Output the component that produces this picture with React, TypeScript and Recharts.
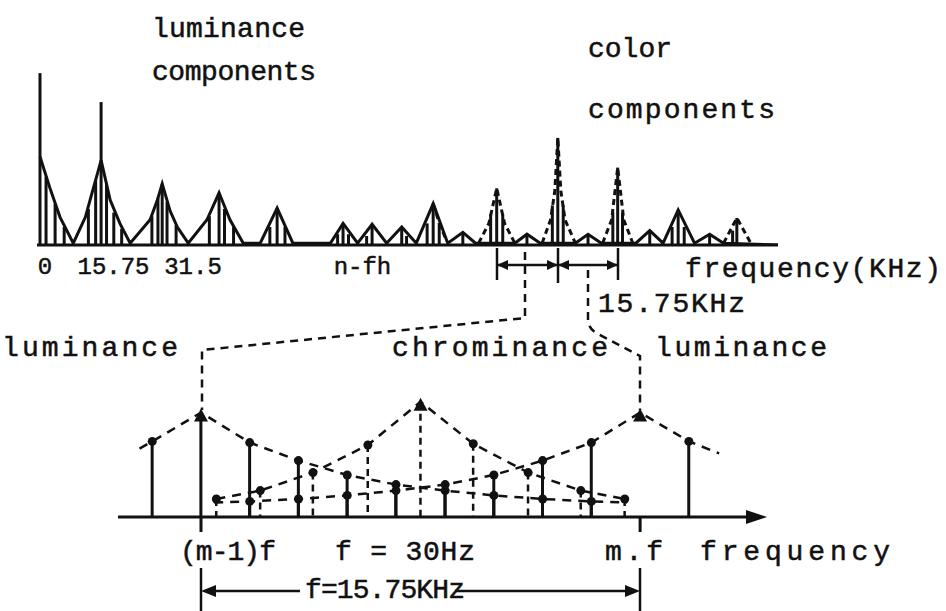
import { ComposedChart, Line, Bar, Scatter, XAxis, YAxis } from 'recharts';

const W = 946;
const H = 611;
const INK = '#111';
const FONT = '"Liberation Mono", "Courier New", monospace';

// upper spectrum: x in multiples of the line frequency fh (15.75 kHz), v = relative level
const topTickValues = [0, 1, 2, 5];
const topTickLabels = ['0', '15.75', '31.5', 'n-fh'];
const TICK_NUDGE = [5, 13, 32, 20];

const lumaOutline = [
  { n: 0, v: 49 }, { n: 0.16, v: 32 }, { n: 0.33, v: 15.5 }, { n: 0.55, v: 1 },
  { n: 0.75, v: 15.5 }, { n: 0.86, v: 29 }, { n: 1.01, v: 47 }, { n: 1.16, v: 25 }, { n: 1.32, v: 12 }, { n: 1.49, v: 1 },
  { n: 1.82, v: 14 }, { n: 1.94, v: 25 }, { n: 2.02, v: 34 }, { n: 2.15, v: 19 }, { n: 2.27, v: 10 }, { n: 2.45, v: 1 },
  { n: 2.76, v: 14 }, { n: 2.96, v: 29 }, { n: 3.14, v: 14 }, { n: 3.36, v: 1 },
  { n: 3.64, v: 1 }, { n: 3.92, v: 20.5 }, { n: 4.18, v: 1 },
  { n: 4.8, v: 1 }, { n: 5.01, v: 12 }, { n: 5.25, v: 1 },
  { n: 5.49, v: 11.5 }, { n: 5.73, v: 1 },
  { n: 5.98, v: 10 }, { n: 6.22, v: 1 },
  { n: 6.5, v: 23 }, { n: 6.74, v: 1 },
  { n: 6.99, v: 7 }, { n: 7.2, v: 1 },
  { n: 7.85, v: 1 }, { n: 8.05, v: 6 }, { n: 8.27, v: 1 },
  { n: 8.85, v: 1 }, { n: 9.06, v: 6 }, { n: 9.28, v: 1 },
  { n: 9.85, v: 1 }, { n: 10.08, v: 8 }, { n: 10.3, v: 1 },
  { n: 10.55, v: 19.5 }, { n: 10.82, v: 1 },
  { n: 11.07, v: 6 }, { n: 11.3, v: 1 },
  { n: 12.2, v: 0 },
];

const chromaOutline = [
  { n: 6.5, v: 23 }, { n: 6.6, v: 12 }, { n: 6.7, v: 4 }, { n: 6.8, v: null },
  { n: 7.25, v: 1 }, { n: 7.42, v: 12 }, { n: 7.55, v: 31.5 }, { n: 7.68, v: 12 }, { n: 7.85, v: 1 }, { n: 8.0, v: null },
  { n: 8.3, v: 1 }, { n: 8.44, v: 14 }, { n: 8.51, v: 30 }, { n: 8.56, v: 59.5 }, { n: 8.61, v: 30 }, { n: 8.68, v: 14 }, { n: 8.85, v: 1 }, { n: 9.0, v: null },
  { n: 9.3, v: 1 }, { n: 9.45, v: 14 }, { n: 9.55, v: 43 }, { n: 9.65, v: 14 }, { n: 9.8, v: 1 }, { n: 10.0, v: null },
  { n: 11.3, v: 1 }, { n: 11.52, v: 15 }, { n: 11.75, v: 1 },
];

const topStems = [
  { n: 0, v: 95.5 }, { n: 0.1, v: 38 }, { n: 0.25, v: 23 }, { n: 0.4, v: 10 },
  { n: 0.8, v: 20 }, { n: 0.92, v: 36 }, { n: 1.01, v: 79.4 }, { n: 1.1, v: 34 }, { n: 1.22, v: 18 }, { n: 1.35, v: 9 },
  { n: 1.85, v: 16 }, { n: 1.95, v: 26 }, { n: 2.02, v: 34 }, { n: 2.1, v: 24 }, { n: 2.25, v: 11 },
  { n: 2.8, v: 16 }, { n: 2.96, v: 29 }, { n: 3.05, v: 20 }, { n: 3.2, v: 10 },
  { n: 3.8, v: 10 }, { n: 3.92, v: 20.5 }, { n: 4.05, v: 10 },
  { n: 4.92, v: 6 }, { n: 5.01, v: 12 }, { n: 5.1, v: 6 },
  { n: 5.4, v: 5 }, { n: 5.49, v: 11.5 },
  { n: 5.98, v: 10 }, { n: 6.06, v: 5 },
  { n: 6.4, v: 12 }, { n: 6.5, v: 23 }, { n: 6.6, v: 12 },
  { n: 6.99, v: 7 },
  { n: 7.45, v: 17 }, { n: 7.55, v: 31.5 }, { n: 7.65, v: 17 },
  { n: 8.05, v: 6 },
  { n: 8.47, v: 22 }, { n: 8.56, v: 59.5 }, { n: 8.65, v: 22 },
  { n: 9.06, v: 6 },
  { n: 9.47, v: 18 }, { n: 9.55, v: 43 }, { n: 9.63, v: 18 },
  { n: 10.08, v: 8 },
  { n: 10.45, v: 10 }, { n: 10.55, v: 19.5 }, { n: 10.65, v: 10 },
  { n: 11.07, v: 6 },
  { n: 11.45, v: 8 }, { n: 11.52, v: 15 },
];

// lower detail: u = position between (m-1)f (0) and m.f (1)
const lumaLowStems = [
  { u: -0.111, v: 63 }, { u: 0, v: 87 }, { u: 0.111, v: 62 }, { u: 0.222, v: 47 }, { u: 0.333, v: 35 },
  { u: 0.444, v: 27 }, { u: 0.556, v: 22 }, { u: 0.667, v: 18 }, { u: 0.778, v: 15 }, { u: 0.889, v: 13 },
];
const lumaHighStems = [
  { u: 0.111, v: 13 }, { u: 0.222, v: 15 }, { u: 0.333, v: 18 }, { u: 0.444, v: 22 }, { u: 0.556, v: 27 },
  { u: 0.667, v: 35 }, { u: 0.778, v: 47 }, { u: 0.889, v: 62 }, { u: 1, v: 87 }, { u: 1.111, v: 63 },
];
const chromaStems = [
  { u: 0.035, v: 15 }, { u: 0.135, v: 22 }, { u: 0.255, v: 37 }, { u: 0.38, v: 60 }, { u: 0.5, v: 96 },
  { u: 0.62, v: 61 }, { u: 0.745, v: 37 }, { u: 0.865, v: 22 }, { u: 0.965, v: 15 },
];
const lumaLowEnds = [{ u: -0.14, v: 57 }, { u: 0.97, v: 12 }];
const lumaHighEnds = [{ u: 0.03, v: 12 }, { u: 1.18, v: 53 }];

const lowStems = [
  ...lumaLowStems.map((p) => ({ ...p, family: 'luma' })),
  ...lumaHighStems.filter((p) => p.v < 80).map((p) => ({ ...p, family: 'luma' })),
  ...chromaStems.map((p) => ({ ...p, family: 'chroma' })),
];
const lumaLowLine = [lumaLowEnds[0], ...lumaLowStems, lumaLowEnds[1]];
const lumaHighLine = [lumaHighEnds[0], ...lumaHighStems, lumaHighEnds[1]];

function StemShape(props: any) {
  const { x, y, width, height, payload } = props;
  if (!isFinite(x) || !isFinite(y) || !isFinite(height)) return null;
  const cx = x + width / 2;
  const dashed = payload && payload.family === 'chroma';
  return (
    <line
      x1={cx}
      x2={cx}
      y1={y}
      y2={y + height}
      stroke={INK}
      strokeWidth={dashed ? 2.5 : 3}
      strokeDasharray={dashed ? '7 5' : undefined}
    />
  );
}

function TipShape(props: any) {
  const { cx, cy, payload } = props;
  if (!isFinite(cx) || !isFinite(cy)) return null;
  if (payload.v > 80) {
    return <polygon points={`${cx - 7},${cy + 9} ${cx},${cy - 4} ${cx + 7},${cy + 9}`} fill={INK} />;
  }
  return <circle cx={cx} cy={cy} r={4.5} fill={INK} />;
}

function TopTick(props: any) {
  const { x, y, index } = props;
  return (
    <text
      x={x + TICK_NUDGE[index]}
      y={y + 21}
      textAnchor="middle"
      fontFamily={FONT}
      fontSize={24}
      fill={INK}
      stroke={INK}
      strokeWidth={0.5}
    >
      {topTickLabels[index]}
    </text>
  );
}

function Label({ x, y, len, children }: { x: number; y: number; len: number; children: string }) {
  return (
    <text
      x={x}
      y={y}
      fontFamily={FONT}
      fontSize={28}
      fill={INK}
      stroke={INK}
      strokeWidth={0.5}
      textLength={len}
      lengthAdjust="spacing"
    >
      {children}
    </text>
  );
}

const dash = { stroke: INK, strokeWidth: 2.5, strokeDasharray: '8 6', fill: 'none' };

export default function App() {
  return (
    <div style={{ position: 'absolute', left: 0, top: 0, width: W, height: H, background: '#fff' }}>
      <div style={{ position: 'absolute', left: 0, top: 0 }}>
        <ComposedChart width={W} height={300} data={topStems} margin={{ top: 65, right: 168, bottom: 25, left: 37 }}>
          <XAxis
            type="number"
            dataKey="n"
            domain={[-0.05, 12.2]}
            allowDataOverflow
            ticks={topTickValues}
            interval={0}
            tickLine={false}
            axisLine={{ stroke: INK, strokeWidth: 3 }}
            tick={<TopTick />}
            height={30}
          />
          <YAxis type="number" dataKey="v" domain={[0, 100]} allowDataOverflow hide />
          <Bar dataKey="v" barSize={3} shape={<StemShape />} isAnimationActive={false} />
          <Line
            data={lumaOutline}
            dataKey="v"
            type="linear"
            stroke={INK}
            strokeWidth={3}
            dot={false}
            isAnimationActive={false}
          />
          <Line
            data={chromaOutline}
            dataKey="v"
            type="linear"
            stroke={INK}
            strokeWidth={3}
            strokeDasharray="6 4"
            dot={false}
            connectNulls={false}
            isAnimationActive={false}
          />
        </ComposedChart>
      </div>

      <div style={{ position: 'absolute', left: 0, top: 300 }}>
        <ComposedChart width={W} height={311} data={lowStems} margin={{ top: 97, right: 186, bottom: 64, left: 118 }}>
          <XAxis
            type="number"
            dataKey="u"
            domain={[-0.189, 1.273]}
            allowDataOverflow
            ticks={[0, 1]}
            interval={0}
            tickSize={15}
            tickLine={{ stroke: INK, strokeWidth: 3 }}
            axisLine={{ stroke: INK, strokeWidth: 3 }}
            tick={() => <g />}
            height={30}
          />
          <YAxis type="number" dataKey="v" domain={[0, 100]} allowDataOverflow hide />
          <Bar dataKey="v" barSize={3} shape={<StemShape />} isAnimationActive={false} />
          <Line data={lumaLowLine} dataKey="v" type="linear" stroke={INK} strokeWidth={2.5} strokeDasharray="9 7" dot={false} isAnimationActive={false} />
          <Line data={lumaHighLine} dataKey="v" type="linear" stroke={INK} strokeWidth={2.5} strokeDasharray="9 7" dot={false} isAnimationActive={false} />
          <Line data={chromaStems} dataKey="v" type="linear" stroke={INK} strokeWidth={2.5} strokeDasharray="9 7" dot={false} isAnimationActive={false} />
          <Scatter data={lumaLowStems} dataKey="v" shape={<TipShape />} isAnimationActive={false} />
          <Scatter data={lumaHighStems} dataKey="v" shape={<TipShape />} isAnimationActive={false} />
          <Scatter data={chromaStems} dataKey="v" shape={<TipShape />} isAnimationActive={false} />
        </ComposedChart>
      </div>

      <svg width={W} height={H} style={{ position: 'absolute', left: 0, top: 0, pointerEvents: 'none' }}>
        <Label x={152} y={37} len={153}>luminance</Label>
        <Label x={152} y={80} len={164}>components</Label>
        <Label x={588} y={57} len={84}>color</Label>
        <Label x={588} y={118} len={187}>components</Label>
        <Label x={685} y={277} len={256}>frequency(KHz)</Label>
        <Label x={598} y={312} len={147}>15.75KHz</Label>

        {/* bracket under the colour components */}
        <line x1={497} x2={618} y1={265} y2={265} stroke={INK} strokeWidth={2.5} />
        <line x1={497} x2={497} y1={248} y2={280} stroke={INK} strokeWidth={2.5} />
        <line x1={558} x2={558} y1={248} y2={283} stroke={INK} strokeWidth={2.5} />
        <line x1={618} x2={618} y1={248} y2={280} stroke={INK} strokeWidth={2.5} />
        <polygon points="497,265 508,260 508,270" fill={INK} />
        <polygon points="558,265 547,260 547,270" fill={INK} />
        <polygon points="558,265 569,260 569,270" fill={INK} />
        <polygon points="618,265 607,260 607,270" fill={INK} />

        {/* zoom connectors */}
        <path d="M525,252 V318 L202,350 V410" {...dash} />
        <path d="M588,270 V322 Q590,330 598,334 L640,356 V410" {...dash} />

        <Label x={2} y={356} len={176}>luminance</Label>
        <Label x={392} y={356} len={216}>chrominance</Label>
        <Label x={655} y={356} len={172}>luminance</Label>

        {/* axis arrow */}
        <polygon points="746,510 767,517 746,524" fill={INK} />

        <Label x={180} y={560} len={96}>(m-1)f</Label>
        <Label x={335} y={560} len={140}>f = 30Hz</Label>
        <Label x={605} y={560} len={58}>m.f</Label>
        <Label x={700} y={560} len={190}>frequency</Label>

        {/* line spacing dimension */}
        <line x1={201} x2={201} y1={568} y2={611} stroke={INK} strokeWidth={2.5} />
        <line x1={640} x2={640} y1={568} y2={611} stroke={INK} strokeWidth={2.5} />
        <line x1={208} x2={300} y1={591} y2={591} stroke={INK} strokeWidth={2.5} />
        <line x1={455} x2={633} y1={591} y2={591} stroke={INK} strokeWidth={2.5} />
        <polygon points="201,591 216,585 216,597" fill={INK} />
        <polygon points="640,591 625,585 625,597" fill={INK} />
        <Label x={305} y={598} len={160}>f=15.75KHz</Label>
      </svg>
    </div>
  );
}
